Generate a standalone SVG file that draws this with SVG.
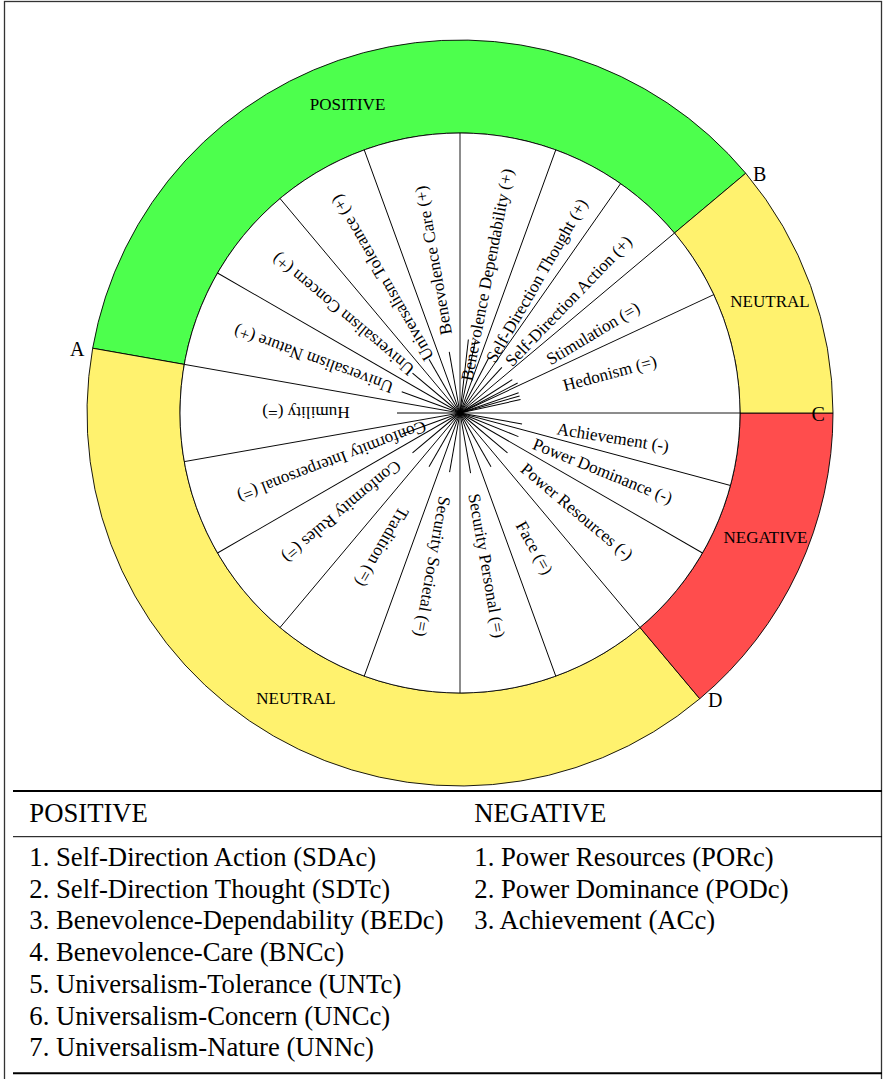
<svg xmlns="http://www.w3.org/2000/svg" width="883" height="1079" viewBox="0 0 883 1079">
<style>
text{font-family:"Liberation Serif","Times New Roman",serif;fill:#000}
.lab{font-size:17.2px;text-anchor:middle}
.ring{font-size:17px;text-anchor:middle}
.pt{font-size:20px}
.leg{font-size:26.7px}
.ln{stroke:#000;stroke-width:0.9;fill:none}
.sh{stroke:#000;stroke-width:1}
</style>
<rect x="4.5" y="1.5" width="877" height="1100" fill="#fff" stroke="#333" stroke-width="1.3"/>

<g id="ring">
<path d="M745.73,173.24 A373,373 0 0 0 92.67,348.23 L184.25,364.38 A280,280 0 0 1 674.49,233.02 Z" fill="#4dff4d" stroke="#000" stroke-width="0.9"/>
<path d="M92.67,348.23 A373,373 0 0 0 699.76,698.73 L639.98,627.49 A280,280 0 0 1 184.25,364.38 Z" fill="#fff26e" stroke="#000" stroke-width="0.9"/>
<path d="M699.76,698.73 A373,373 0 0 0 833,413 L740,413 A280,280 0 0 1 639.98,627.49 Z" fill="#ff4d4d" stroke="#000" stroke-width="0.9"/>
<path d="M833,413 A373,373 0 0 0 745.73,173.24 L674.49,233.02 A280,280 0 0 1 740,413 Z" fill="#fff26e" stroke="#000" stroke-width="0.9"/>
<circle cx="460" cy="413" r="280" fill="#fff" stroke="#000" stroke-width="0.9"/>
</g>

<g id="connectors">
<g class="ln">
<line x1="460" y1="413" x2="740" y2="413"/>
<line x1="460" y1="413" x2="740" y2="413" transform="rotate(-25 460 413)"/>
<line x1="460" y1="413" x2="740" y2="413" transform="rotate(-40 460 413)"/>
<line x1="460" y1="413" x2="740" y2="413" transform="rotate(-55 460 413)"/>
<line x1="460" y1="413" x2="740" y2="413" transform="rotate(-70 460 413)"/>
<line x1="460" y1="413" x2="740" y2="413" transform="rotate(-90 460 413)"/>
<line x1="460" y1="413" x2="740" y2="413" transform="rotate(-110 460 413)"/>
<line x1="460" y1="413" x2="740" y2="413" transform="rotate(-130 460 413)"/>
<line x1="460" y1="413" x2="740" y2="413" transform="rotate(-150 460 413)"/>
<line x1="460" y1="413" x2="740" y2="413" transform="rotate(-170 460 413)"/>
<line x1="460" y1="413" x2="740" y2="413" transform="rotate(-190 460 413)"/>
<line x1="460" y1="413" x2="740" y2="413" transform="rotate(-210 460 413)"/>
<line x1="460" y1="413" x2="740" y2="413" transform="rotate(-230 460 413)"/>
<line x1="460" y1="413" x2="740" y2="413" transform="rotate(-250 460 413)"/>
<line x1="460" y1="413" x2="740" y2="413" transform="rotate(-270 460 413)"/>
<line x1="460" y1="413" x2="740" y2="413" transform="rotate(-290 460 413)"/>
<line x1="460" y1="413" x2="740" y2="413" transform="rotate(-310 460 413)"/>
<line x1="460" y1="413" x2="740" y2="413" transform="rotate(-330 460 413)"/>
<line x1="460" y1="413" x2="740" y2="413" transform="rotate(-345 460 413)"/>
</g>
<g class="sh">
<line x1="460" y1="413" x2="522" y2="413" transform="rotate(-12.5 460 413)"/>
<line x1="460" y1="413" x2="522" y2="413" transform="rotate(-16 460 413)"/>
<line x1="460" y1="413" x2="522" y2="413" transform="rotate(-19 460 413)"/>
<line x1="460" y1="413" x2="525" y2="413" transform="rotate(-27.5 460 413)"/>
<line x1="460" y1="413" x2="522" y2="413" transform="rotate(-32.5 460 413)"/>
<line x1="460" y1="413" x2="522" y2="413" transform="rotate(-47.5 460 413)"/>
<line x1="460" y1="413" x2="522" y2="413" transform="rotate(-62.5 460 413)"/>
<line x1="460" y1="413" x2="534" y2="413" transform="rotate(-78 460 413)"/>
<line x1="460" y1="413" x2="534" y2="413" transform="rotate(-83.5 460 413)"/>
<line x1="460" y1="413" x2="522" y2="413" transform="rotate(-100 460 413)"/>
<line x1="460" y1="413" x2="522" y2="413" transform="rotate(-120 460 413)"/>
<line x1="460" y1="413" x2="522" y2="413" transform="rotate(-140 460 413)"/>
<line x1="460" y1="413" x2="522" y2="413" transform="rotate(-160 460 413)"/>
<line x1="460" y1="413" x2="523" y2="413" transform="rotate(-180 460 413)"/>
<line x1="460" y1="413" x2="522" y2="413" transform="rotate(-200 460 413)"/>
<line x1="460" y1="413" x2="522" y2="413" transform="rotate(-220 460 413)"/>
<line x1="460" y1="413" x2="522" y2="413" transform="rotate(-240 460 413)"/>
<line x1="460" y1="413" x2="520" y2="413" transform="rotate(-260 460 413)"/>
<line x1="460" y1="413" x2="521" y2="413" transform="rotate(-280 460 413)"/>
<line x1="460" y1="413" x2="522" y2="413" transform="rotate(-300 460 413)"/>
<line x1="460" y1="413" x2="522" y2="413" transform="rotate(-320 460 413)"/>
<line x1="460" y1="413" x2="523" y2="413" transform="rotate(-338 460 413)"/>
<line x1="460" y1="413" x2="523" y2="413" transform="rotate(-350 460 413)"/>
</g>
</g>

<g id="labels">
<text id="hedonism" class="lab" x="615" y="413" dy="0.35em" transform="rotate(-15 460 413)">Hedonism (=)</text>
<text id="stimulation" class="lab" x="615" y="413" dy="0.35em" transform="rotate(-31 460 413)">Stimulation (=)</text>
<text id="sda" class="lab" x="616" y="413" dy="0.35em" transform="rotate(-46 460 413)">Self-Direction Action (+)</text>
<text id="sdt" class="lab" x="613" y="413" dy="0.35em" transform="rotate(-60 460 413)">Self-Direction Thought (+)</text>
<text id="bd" class="lab" x="601" y="413" dy="0.35em" transform="rotate(-79 460 413)">Benevolence Dependability (+)</text>
<text id="bc" class="lab" x="615" y="413" dy="0.35em" transform="rotate(-100 460 413)">Benevolence Care (+)</text>
<text id="ut" class="lab" x="616" y="413" dy="0.35em" transform="rotate(-120 460 413)">Universalism Tolerance (+)</text>
<text id="uc" class="lab" x="613" y="413" dy="0.35em" transform="rotate(-140 460 413)">Universalism Concern (+)</text>
<text id="un" class="lab" x="616" y="413" dy="0.35em" transform="rotate(-160 460 413)">Universalism Nature (+)</text>
<text id="humility" class="lab" x="614" y="413" dy="0.35em" transform="rotate(-180 460 413)">Humility (=)</text>
<text id="ci" class="lab" x="597" y="413" dy="0.35em" transform="rotate(-201 460 413)">Conformity Interpersonal (=)</text>
<text id="cr" class="lab" x="614" y="413" dy="0.35em" transform="rotate(-220 460 413)">Conformity Rules (=)</text>
<text id="tradition" class="lab" x="615" y="413" dy="0.35em" transform="rotate(-240 460 413)">Tradition (=)</text>
<text id="ss" class="lab" x="616" y="413" dy="0.35em" transform="rotate(-260 460 413)">Security Societal (=)</text>
<text id="sp" class="lab" x="615" y="413" dy="0.35em" transform="rotate(-280 460 413)">Security Personal (=)</text>
<text id="face" class="lab" x="614" y="413" dy="0.35em" transform="rotate(-299 460 413)">Face (=)</text>
<text id="pr" class="lab" x="613" y="413" dy="0.35em" transform="rotate(-320 460 413)">Power Resources (-)</text>
<text id="pd" class="lab" x="614" y="413" dy="0.35em" transform="rotate(-338 460 413)">Power Dominance (-)</text>
<text id="ach" class="lab" x="615" y="413" dy="0.35em" transform="rotate(-351 460 413)">Achievement (-)</text>
</g>

<g id="ring-labels">
<text class="ring" x="347.5" y="110">POSITIVE</text>
<text class="ring" x="770" y="307">NEUTRAL</text>
<text class="ring" x="765.5" y="542.5">NEGATIVE</text>
<text class="ring" x="296" y="704">NEUTRAL</text>
<text class="pt" x="70" y="356">A</text>
<text class="pt" x="753" y="180.5">B</text>
<text class="pt" x="811.5" y="420.5">C</text>
<text class="pt" x="708" y="706.5">D</text>
</g>

<g id="legend">
<line x1="13" y1="791" x2="882" y2="791" stroke="#000" stroke-width="2"/>
<line x1="13" y1="836.7" x2="882" y2="836.7" stroke="#000" stroke-width="1"/>
<line x1="13" y1="1073.3" x2="882" y2="1073.3" stroke="#000" stroke-width="2"/>
<text class="leg" x="29.3" y="821.7">POSITIVE</text>
<text class="leg" x="474.3" y="821.7">NEGATIVE</text>
<text class="leg" x="29.3" y="866">1. Self-Direction Action (SDAc)</text>
<text class="leg" x="29.3" y="897.7">2. Self-Direction Thought (SDTc)</text>
<text class="leg" x="29.3" y="929.4">3. Benevolence-Dependability (BEDc)</text>
<text class="leg" x="29.3" y="961.1">4. Benevolence-Care (BNCc)</text>
<text class="leg" x="29.3" y="992.8">5. Universalism-Tolerance (UNTc)</text>
<text class="leg" x="29.3" y="1024.5">6. Universalism-Concern (UNCc)</text>
<text class="leg" x="29.3" y="1056.2">7. Universalism-Nature (UNNc)</text>
<text class="leg" x="474.3" y="866">1. Power Resources (PORc)</text>
<text class="leg" x="474.3" y="897.7">2. Power Dominance (PODc)</text>
<text class="leg" x="474.3" y="929.4">3. Achievement (ACc)</text>
</g>
</svg>
